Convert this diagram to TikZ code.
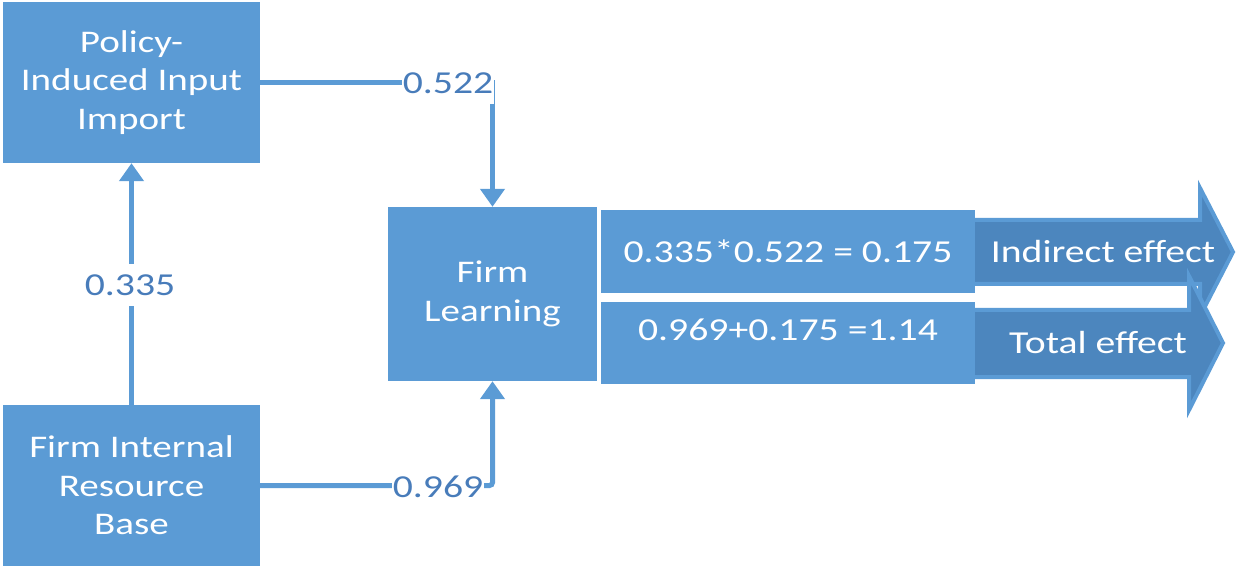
\documentclass[tikz,border=0pt]{standalone}
\usepackage{fontspec}
\usetikzlibrary{arrows.meta}
\newfontfamily\dgmfont[FakeStretch=1.24]{Carlito}
\definecolor{boxblue}{RGB}{91,155,213}
\definecolor{darkblue}{RGB}{76,134,190}
\definecolor{labelblue}{RGB}{72,124,186}

\begin{document}
\begin{tikzpicture}[x=1pt,y=-1pt,
  box/.style={fill=boxblue, text=white, align=center, inner sep=0pt,
    font=\dgmfont\fontsize{31.5}{38.5}\selectfont},
  calc/.style={fill=boxblue, text=white, inner sep=0pt,
    minimum width=374pt, font=\dgmfont\fontsize{32}{38}\selectfont},
  conn/.style={draw=boxblue, line width=5pt, -{Triangle[width=24pt,length=18pt]}},
  wlabel/.style={fill=white, text=labelblue, inner xsep=1pt, inner ysep=10pt,
    font=\dgmfont\fontsize{32}{38}\selectfont},
  bigarrow/.style={fill=darkblue, draw=boxblue, line width=4pt, line join=miter},
  arrowtext/.style={text=white, inner sep=0pt, font=\dgmfont\fontsize{32}{38}\selectfont}
]
\useasboundingbox (0,0) rectangle (1237,569);

% effect arrows (drawn first so the result boxes sit over their tails)
\path[bigarrow] (970,220) -- (1200,220) -- (1200,188) -- (1233,252)
  -- (1200,316) -- (1200,284) -- (970,284) -- cycle;
\path[bigarrow] (970,310) -- (1189,310) -- (1189,276) -- (1223,343)
  -- (1189,410) -- (1189,377) -- (970,377) -- cycle;
\node[arrowtext] (indirect) at (1103,252) {Indirect effect};
\node[arrowtext] (total) at (1098,343) {Total effect};

% main boxes
\node[box, minimum width=257pt, minimum height=161pt] (import) at (131.5,82.5)
  {Policy-\\Induced Input\\Import};
\node[box, minimum width=257pt, minimum height=161pt] (base) at (131.5,485.5)
  {Firm Internal\\Resource\\Base};
\node[box, minimum width=209pt, minimum height=174pt] (learn) at (492.5,294)
  {Firm\\Learning};

% result boxes
\node[calc, minimum height=83pt] (indcalc) at (788,251.5) {0.335*0.522 = 0.175};
\node[calc, minimum height=82pt, text height=20pt, text depth=25pt] (totcalc) at (788,343)
  {0.969+0.175 =1.14};

% paths between the boxes
\draw[conn] (base) -- (import);
\draw[conn] (import.east) -| (learn.north);
\draw[conn, rounded corners=3pt] (base.east) -| (learn.south);

% path coefficients
\node[wlabel] (c335) at (130,285) {0.335};
\node[wlabel] (c522) at (448,83) {0.522};
\node[wlabel] (c969) at (438,487) {0.969};
\end{tikzpicture}
\end{document}
